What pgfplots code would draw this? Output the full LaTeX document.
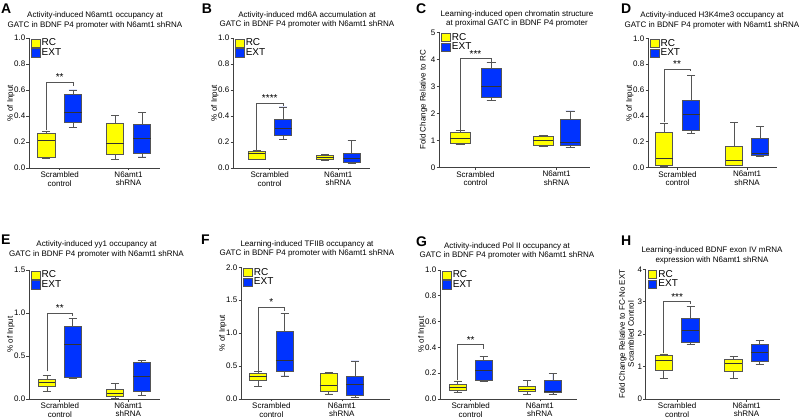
\documentclass[border=0pt]{standalone}
\usepackage{fontspec}
\setmainfont{Liberation Sans}
\usepackage{pgfplots}
\pgfplotsset{compat=1.18}
\usepgfplotslibrary{statistics}
\definecolor{rcy}{RGB}{255,255,0}
\definecolor{extb}{RGB}{0,51,255}
\definecolor{edge}{RGB}{85,85,85}

\pgfplotsset{
  panel/.style={
    scale only axis, clip=false,
    axis x line=bottom, axis y line=left,
    axis line style={-, draw=black!75, line width=0.8pt},
    xmin=0, ymin=0,
    tick align=outside, major tick length=2.5pt,
    tick style={black!75, line width=0.7pt},
    xticklabel style={align=center, inner sep=1pt, font=\fontsize{8}{8.6}\selectfont},
    yticklabel style={inner sep=1pt, font=\fontsize{8}{9}\selectfont},
    ylabel style={font=\fontsize{8}{9}\selectfont, align=center},
    /pgf/number format/assume math mode=true,
    xticklabels={{Scrambled\\control},{N6amt1\\shRNA}},
    boxplot/draw direction=y,
    boxplot/every box/.style={draw=edge, line width=0.6pt},
    boxplot/every whisker/.style={draw=edge, line width=0.6pt},
    boxplot/every median/.style={draw=black!80, line width=0.7pt},
    legend style={at={(0.015,1)}, anchor=north west, draw=none, fill=none,
      font=\fontsize{10}{10}\selectfont, inner sep=0pt,
      nodes={inner sep=0.6pt}, row sep=0pt, column sep=1pt},
    legend cell align=left,
    legend image code/.code={\draw[#1] (0pt,-4.2pt) rectangle (8.5pt,4.2pt);},
  },
  dec1/.style={yticklabel style={/pgf/number format/fixed,
      /pgf/number format/fixed zerofill, /pgf/number format/precision=1},
    ylabel style={yshift=-5pt}},
}

% fill, position, lower whisker, lower quartile, median, upper quartile, upper whisker
\newcommand{\bx}[7]{\addplot[fill=#1, draw=edge, forget plot,
  boxplot prepared={draw position=#2, box extend=\bw, whisker extend=\we,
    lower whisker=#3, lower quartile=#4, median=#5,
    upper quartile=#6, upper whisker=#7}] coordinates {};}
\newcommand{\leg}{%
  \addlegendimage{fill=rcy, draw=edge}\addlegendentry{RC}
  \addlegendimage{fill=extb, draw=edge}\addlegendentry{EXT}}
% xl, xr, yl, yh, yr, stars
\newcommand{\sig}[6]{%
  \draw[edge, line width=0.6pt] (axis cs:#1,#3) |- (axis cs:#2,#4) -- (axis cs:#2,#5);
  \node[anchor=south, inner sep=1pt, font=\fontsize{10}{10}\selectfont]
    at (axis cs:{(#1+#2)/2},#4) {#6};}

\tikzset{ttl/.style={align=center, font=\fontsize{8}{9.5}\selectfont},
  lt/.style={anchor=base west, inner sep=0pt, font=\fontsize{14}{14}\selectfont\bfseries}}

\begin{document}
\begin{tikzpicture}
\path[use as bounding box] (0,0) rectangle (800pt,420pt);

% ---------- A ----------
\def\bw{17.5}\def\we{8}
\begin{axis}[panel, dec1, at={(29pt,252pt)}, width=131pt, height=130pt,
  xmax=131, ymax=1, ytick={0,0.2,0.4,0.6,0.8,1}, xtick={30.65,99.5},
  ylabel={\% of Input}]
\leg
\bx{rcy}{17.3}{0.075}{0.08}{0.21}{0.27}{0.28}
\bx{extb}{44}{0.31}{0.348}{0.428}{0.567}{0.60}
\bx{rcy}{86}{0.064}{0.103}{0.193}{0.343}{0.407}
\bx{extb}{113}{0.085}{0.116}{0.229}{0.335}{0.428}
\sig{17.3}{44}{0.29}{0.66}{0.63}{**}
\end{axis}

% ---------- B ----------
\def\bw{17}\def\we{8}
\begin{axis}[panel, dec1, at={(233pt,252pt)}, width=137pt, height=130pt,
  xmax=137, ymax=1, ytick={0,0.2,0.4,0.6,0.8,1}, xtick={36.75,105.25},
  ylabel={\% of Input}]
\leg
\bx{rcy}{23.5}{0.065}{0.07}{0.11}{0.13}{0.135}
\bx{extb}{50}{0.219}{0.253}{0.304}{0.376}{0.47}
\bx{rcy}{92}{0.06}{0.064}{0.08}{0.10}{0.106}
\bx{extb}{118.5}{0.039}{0.046}{0.072}{0.116}{0.214}
\sig{23.5}{50}{0.14}{0.50}{0.475}{****}
\end{axis}

% ---------- C ----------
\def\bw{20}\def\we{9}
\begin{axis}[panel, at={(439pt,252.3pt)}, width=151pt, height=135.4pt,
  xmax=151, ymax=5, ytick={0,1,2,3,4,5}, xtick={36.5,117.5},
  ylabel={Fold Change Relative to RC}, ylabel style={yshift=-1pt}]
\leg
\bx{rcy}{21}{0.86}{0.9}{1.07}{1.29}{1.37}
\bx{extb}{52}{2.48}{2.59}{2.99}{3.67}{3.9}
\bx{rcy}{104}{0.78}{0.81}{1.02}{1.17}{1.19}
\bx{extb}{131}{0.75}{0.81}{0.94}{1.8}{2.1}
\sig{21}{52}{1.39}{4.03}{3.92}{***}
\end{axis}

% ---------- D ----------
\def\bw{17}\def\we{8}
\begin{axis}[panel, dec1, at={(648pt,252.3pt)}, width=129pt, height=129.4pt,
  xmax=129, ymax=1, ytick={0,0.2,0.4,0.6,0.8,1}, xtick={29.5,99},
  ylabel={\% of Input}]
\leg
\bx{rcy}{16}{0.008}{0.015}{0.072}{0.27}{0.343}
\bx{extb}{43}{0.265}{0.291}{0.41}{0.518}{0.714}
\bx{rcy}{86}{0.015}{0.02}{0.059}{0.162}{0.353}
\bx{extb}{112}{0.085}{0.098}{0.11}{0.227}{0.322}
\sig{16}{42}{0.35}{0.763}{0.75}{**}
\end{axis}

% ---------- E ----------
\def\bw{16.5}\def\we{8}
\begin{axis}[panel, dec1, at={(29pt,21pt)}, width=131pt, height=129pt,
  xmax=131, ymax=1.5, ytick={0,0.5,1,1.5}, xtick={30.85,99.35},
  ylabel={\% of Input}]
\leg
\bx{rcy}{18}{0.085}{0.151}{0.19}{0.229}{0.271}
\bx{extb}{43.7}{0.24}{0.25}{0.64}{0.84}{0.94}
\bx{rcy}{86}{0.01}{0.027}{0.066}{0.11}{0.18}
\bx{extb}{112.7}{0.045}{0.085}{0.267}{0.43}{0.45}
\sig{18}{43.7}{0.32}{1.0}{0.96}{**}
\end{axis}

% ---------- F ----------
\def\bw{17.5}\def\we{8}
\begin{axis}[panel, dec1, at={(241pt,21pt)}, width=149pt, height=131.7pt,
  xmax=149, ymax=2, ytick={0,0.5,1,1.5,2}, xtick={30.35,100.85},
  ylabel={\% of Input}]
\leg
\bx{rcy}{17}{0.19}{0.29}{0.34}{0.39}{0.42}
\bx{extb}{43.7}{0.35}{0.42}{0.58}{1.03}{1.30}
\bx{rcy}{87.7}{0.076}{0.11}{0.2}{0.39}{0.4}
\bx{extb}{114}{0.025}{0.056}{0.23}{0.34}{0.58}
\sig{17}{43.7}{0.43}{1.40}{1.33}{*}
\end{axis}

% ---------- G ----------
\def\bw{17}\def\we{8}
\begin{axis}[panel, dec1, at={(440pt,21pt)}, width=137pt, height=129pt,
  xmax=137, ymax=1, ytick={0,0.2,0.4,0.6,0.8,1}, xtick={30.7,99.9},
  ylabel={\% of Input}]
\leg
\bx{rcy}{17.7}{0.052}{0.07}{0.088}{0.111}{0.14}
\bx{extb}{43.7}{0.134}{0.142}{0.225}{0.302}{0.333}
\bx{rcy}{87}{0.036}{0.057}{0.078}{0.096}{0.147}
\bx{extb}{112.8}{0.036}{0.049}{0.062}{0.142}{0.2}
\sig{17.7}{43.7}{0.147}{0.424}{0.385}{**}
\end{axis}

% ---------- H ----------
\def\bw{17.5}\def\we{8}
\begin{axis}[panel, at={(645.7pt,21pt)}, width=134pt, height=129.7pt,
  xmax=134, ymax=4, ytick={0,1,2,3,4}, xtick={31.4,100.9},
  ylabel={Fold Change Relative to FC-No EXT\\Scrambled Control},
  ylabel style={yshift=-1pt}]
\leg
\bx{rcy}{18}{0.64}{0.88}{1.2}{1.34}{1.39}
\bx{extb}{44.8}{1.68}{1.76}{2.11}{2.48}{2.85}
\bx{rcy}{87.8}{0.63}{0.84}{1.11}{1.22}{1.31}
\bx{extb}{114}{1.06}{1.15}{1.43}{1.69}{1.8}
\sig{18}{44.8}{1.41}{3.01}{2.93}{***}
\end{axis}

% titles
\node[ttl] at (95pt,399.6pt) {Activity-induced N6amt1 occupancy at\\GATC in BDNF P4 promoter with N6amt1 shRNA};
\node[ttl] at (307pt,400pt) {Activity-induced md6A accumulation at\\GATC in BDNF P4 promoter with N6amt1 shRNA};
\node[ttl] at (517pt,401.2pt) {Learning-induced open chromatin structure\\at proximal GATC in BDNF P4 promoter};
\node[ttl] at (712pt,399.6pt) {Activity-induced H3K4me3 occupancy at\\GATC in BDNF P4 promoter with N6amt1 shRNA};
\node[ttl] at (96.5pt,170.8pt) {Activity-induced yy1 occupancy at\\GATC in BDNF P4 promoter with N6amt1 shRNA};
\node[ttl] at (307pt,171pt) {Learning-induced TFIIB occupancy at\\GATC in BDNF P4 promoter with N6amt1 shRNA};
\node[ttl] at (507pt,169pt) {Activity-induced Pol II occupancy at\\GATC in BDNF P4 promoter with N6amt1 shRNA};
\node[ttl] at (712pt,164.7pt) {Learning-induced BDNF exon IV mRNA\\expression with N6amt1 shRNA};

% panel letters
\node[lt] at (1pt,406.7pt) {A};
\node[lt] at (201.7pt,406.7pt) {B};
\node[lt] at (416pt,406.7pt) {C};
\node[lt] at (621pt,406pt) {D};
\node[lt] at (1pt,175.7pt) {E};
\node[lt] at (201pt,175.3pt) {F};
\node[lt] at (416pt,173.3pt) {G};
\node[lt] at (621pt,174.3pt) {H};
\end{tikzpicture}
\end{document}
